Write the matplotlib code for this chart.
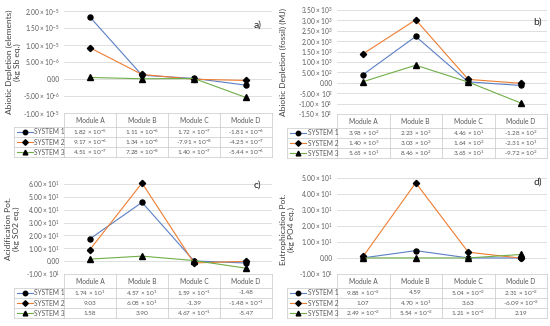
import numpy as np
import matplotlib.pyplot as plt

plt.rcParams['font.family'] = ['Lato', 'DejaVu Sans']
plt.rcParams['mathtext.fontset'] = 'custom'
plt.rcParams['mathtext.rm'] = 'Lato'
plt.rcParams['mathtext.it'] = 'Lato:italic'
plt.rcParams['mathtext.bf'] = 'Lato:bold'
plt.rcParams['mathtext.default'] = 'regular'

modules = ['Module A', 'Module B', 'Module C', 'Module D']
systems = ['SYSTEM 1', 'SYSTEM 2', 'SYSTEM 3']

# a) abiotic depletion, elements [kg Sb eq.]
adpe_s1 = [1.82e-5, 1.11e-6, 1.72e-7, -1.81e-6]
adpe_s2 = [9.17e-6, 1.34e-6, -7.91e-8, -4.25e-7]
adpe_s3 = [4.51e-7, 7.28e-8, 1.40e-7, -5.44e-6]
adpe_ticks = [-1e-5, -5e-6, 0, 5e-6, 1e-5, 1.5e-5, 2e-5]

# b) abiotic depletion, fossil [MJ]
adpf_s1 = [3.98e2, 2.23e3, 4.46e1, -1.28e2]
adpf_s2 = [1.40e3, 3.03e3, 1.64e2, -2.31e1]
adpf_s3 = [5.65e1, 8.46e2, 3.65e1, -9.72e2]
adpf_ticks = [-1.5e3, -1e3, -5e2, 0, 5e2, 1e3, 1.5e3, 2e3, 2.5e3, 3e3, 3.5e3]

# c) acidification potential [kg SO2 eq.]
ap_s1 = [1.74e1, 4.57e1, 1.59e-1, -1.48]
ap_s2 = [9.03, 6.08e1, -1.39, -1.48e-1]
ap_s3 = [1.58, 3.90, 4.67e-1, -5.47]
ap_ticks = [-10, 0, 10, 20, 30, 40, 50, 60]

# d) eutrophication potential [kg PO4 eq.]
ep_s1 = [9.88e-2, 4.59, 5.04e-2, 2.31e-2]
ep_s2 = [1.07, 4.70e1, 3.63, -6.09e-2]
ep_s3 = [2.49e-2, 5.54e-2, 1.21e-2, 2.19]
ep_ticks = [-10, 0, 10, 20, 30, 40, 50]

colors = ['#5B7FC4', '#ED7D31', '#70AD47']
markers = ['o', 'D', '^']
msizes = [3.6, 3.2, 3.8]
grey = '#595959'
W, H = 550, 326


def sci(v):
    if v == 0:
        return '0.00'
    e = int(np.floor(np.log10(abs(v))))
    m = v / 10.0**e
    if round(abs(m), 2) >= 10:
        m /= 10
        e += 1
    if e == 0:
        return f'{m:.2f}'
    return f'{m:.2f} × $10^{{{e}}}$'


fig = plt.figure(figsize=(5.5, 3.26), dpi=100)
over = fig.add_axes([0, 0, 1, 1])
over.set_xlim(0, W)
over.set_ylim(H, 0)
over.axis('off')


def panel(series, ticks, ylab, tag, x0, x1, ytop, ybot, xl, ylx, yly, tagxy):
    ax = fig.add_axes([x0 / W, 1 - ybot / H, (x1 - x0) / W, (ybot - ytop) / H])
    ax.patch.set_alpha(0)
    x = np.arange(len(modules))
    for s, c, m, ms in zip(series, colors, markers, msizes):
        ax.plot(x, s, color=c, lw=0.8, marker=m, ms=ms, mfc='k', mec='k',
                clip_on=False, zorder=3)
    ax.set_xlim(-0.5, len(modules) - 0.5)
    ax.set_ylim(ticks[0], ticks[-1])
    ax.set_yticks(ticks)
    ax.set_yticklabels([sci(t) for t in ticks], fontsize=4.7, color=grey)
    ax.tick_params(axis='y', length=0, pad=3)
    ax.set_xticks([])
    ax.grid(axis='y', color='#d9d9d9', lw=0.6)
    for sp in ax.spines.values():
        sp.set_visible(False)
    ax.text(tagxy[0], tagxy[1], tag, transform=ax.transAxes, fontsize=7.5,
            color='#262626', ha='center', va='center')
    fig.text(ylx / W, 1 - yly / H, ylab, rotation=90, ha='center', va='center',
             multialignment='center', fontsize=6, color='#404040', linespacing=1.15)

    # data table below the chart
    cw = (x1 - x0) / len(modules)
    hh, rh = 13.5, 10.3
    bottom = ybot + hh + rh * len(systems)
    lc = '#c8c8c8'
    over.plot([x0, x1], [ybot, ybot], color=lc, lw=0.5)
    for k in range(len(systems) + 1):
        yy = ybot + hh + k * rh
        over.plot([xl, x1], [yy, yy], color=lc, lw=0.5)
    for k in range(len(modules) + 1):
        over.plot([x0 + k * cw] * 2, [ybot, bottom], color=lc, lw=0.5)
    over.plot([xl, xl], [ybot + hh, bottom], color=lc, lw=0.5)
    for i, mname in enumerate(modules):
        over.text(x0 + (i + 0.5) * cw, ybot + hh / 2 + 0.5, mname, fontsize=4.8,
                  color=grey, ha='center', va='center')
    for j, s in enumerate(series):
        yc = ybot + hh + (j + 0.5) * rh
        over.plot([xl + 3, xl + 19], [yc, yc], color=colors[j], lw=0.8)
        over.plot([xl + 11], [yc], marker=markers[j], ms=msizes[j] - 0.4,
                  color='k', ls='none')
        over.text(xl + 20.5, yc + 0.3, systems[j], fontsize=4.8, color=grey,
                  ha='left', va='center')
        for i, v in enumerate(s):
            over.text(x0 + (i + 0.5) * cw, yc + 0.3, sci(v), fontsize=4.6,
                      color=grey, ha='center', va='center')


panel([adpe_s1, adpe_s2, adpe_s3], adpe_ticks,
      'Abiotic Depletion (elements)\n(kg Sb eq.)', 'a)',
      64, 272, 11, 113, 14, 13.5, 62, (0.93, 0.86))
panel([adpf_s1, adpf_s2, adpf_s3], adpf_ticks,
      'Abiotic Depletion (fossil) (MJ)', 'b)',
      337, 547, 10, 114, 287, 283, 62, (0.955, 0.88))
panel([ap_s1, ap_s2, ap_s3], ap_ticks,
      'Acidification Pot.\n(kg SO2 eq.)', 'c)',
      64, 272, 184, 274, 14, 12.5, 229, (0.93, 0.99))
panel([ep_s1, ep_s2, ep_s3], ep_ticks,
      'Eutrophication Pot.\n(kg PO4 eq.)', 'd)',
      337, 547, 178, 274, 287, 287.5, 229, (0.955, 0.96))

fig.savefig('out.png', dpi=100)
